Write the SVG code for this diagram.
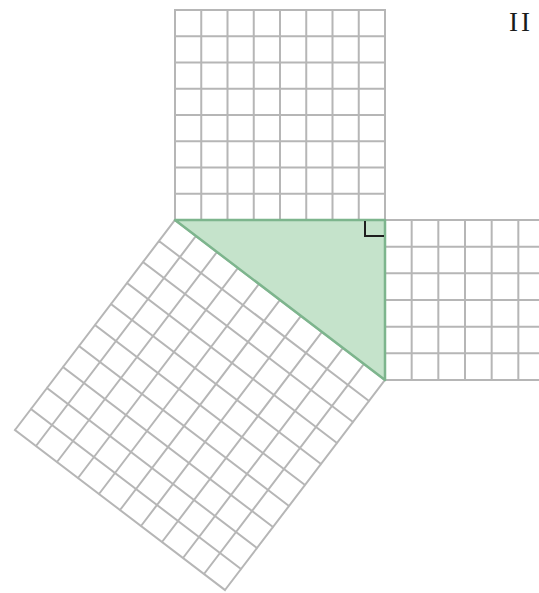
<svg xmlns="http://www.w3.org/2000/svg" width="539" height="593" viewBox="0 0 539 593">
<style>
.grid{fill:none;stroke:#b6b6b6;stroke-width:2;stroke-linecap:square}
.tri{fill:#c5e3cb;stroke:#7db58d;stroke-width:2.5;stroke-linejoin:round}
.mark{fill:none;stroke:#1e1e1e;stroke-width:2}
.lbl{font-family:"Liberation Serif","DejaVu Serif",serif;font-size:27px;fill:#1a1a1a}
</style>
<rect width="539" height="593" fill="#ffffff"/>
<g id="square-top">
<path class="grid" d="M175 10V220M201.25 10V220M227.5 10V220M253.75 10V220M280 10V220M306.25 10V220M332.5 10V220M358.75 10V220M385 10V220M175 10H385M175 36.25H385M175 62.5H385M175 88.75H385M175 115H385M175 141.25H385M175 167.5H385M175 193.75H385M175 220H385"/>
</g>
<g id="square-right">
<path class="grid" d="M385 220V380M411.67 220V380M438.33 220V380M465 220V380M491.67 220V380M518.33 220V380M545 220V380M385 220H545M385 246.67H545M385 273.33H545M385 300H545M385 326.67H545M385 353.33H545M385 380H545"/>
</g>
<g id="square-hyp">
<path class="grid" d="M175 220L15 430M196 236L36 446M217 252L57 462M238 268L78 478M259 284L99 494M280 300L120 510M301 316L141 526M322 332L162 542M343 348L183 558M364 364L204 574M385 380L225 590M175 220L385 380M159 241L369 401M143 262L353 422M127 283L337 443M111 304L321 464M95 325L305 485M79 346L289 506M63 367L273 527M47 388L257 548M31 409L241 569M15 430L225 590"/>
</g>
<g id="triangle">
<polygon class="tri" points="175,220 385,220 385,380"/>
<polyline class="mark" points="365,221 365,236 384,236"/>
</g>
<g id="label">
<text class="lbl" x="521" y="31" text-anchor="middle" letter-spacing="3">II</text>
</g>
</svg>
